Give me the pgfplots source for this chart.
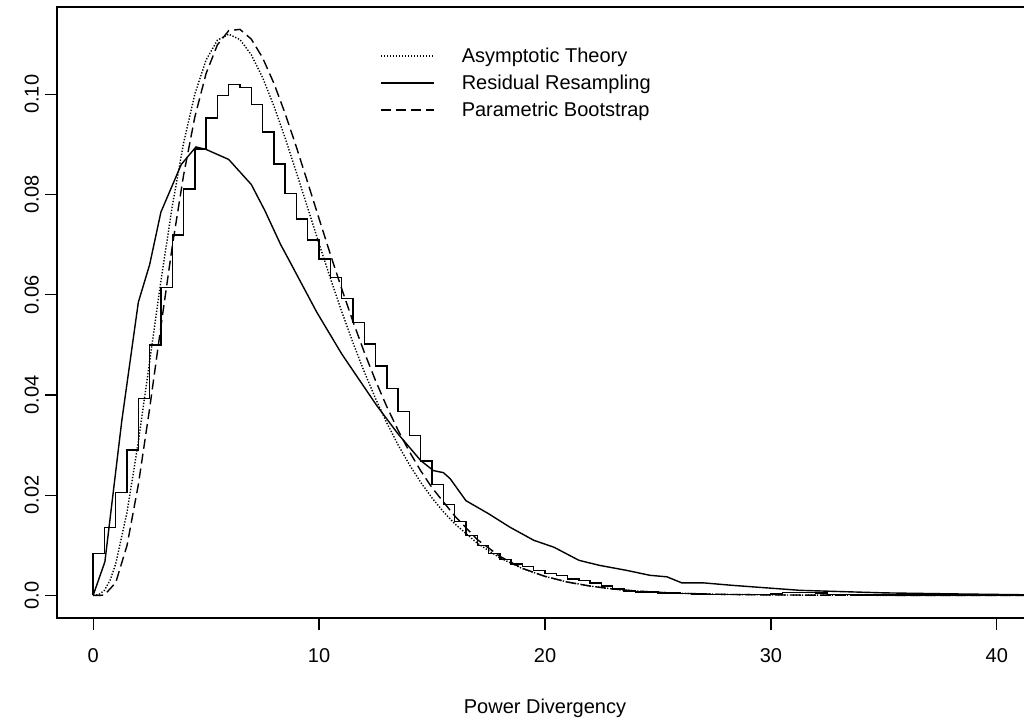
\documentclass[border=0pt]{standalone}
\usepackage{fontspec}
\setmainfont{Liberation Sans}
\usepackage{graphicx}
\usepackage{pgfplots}
\pgfplotsset{compat=1.18}
\begin{document}
\fontsize{20}{24}\selectfont
\begin{tikzpicture}
\useasboundingbox (0,0) rectangle (1024pt,722pt);
\clip (0,0) rectangle (1024pt,722pt);
\begin{axis}[
  at={(57pt,104pt)}, anchor=south west,
  scale only axis, width=976pt, height=611pt,
  xmin=-1.6, xmax=41.6, ymin=-0.004516, ymax=0.11743,
  axis line style={line width=1.6pt, black},
  xtick={0,10,20,30,40}, xticklabels={0,10,20,30,40},
  ytick={0,0.02,0.04,0.06,0.08,0.10},
  yticklabels={\rotatebox{90}{0.0},\rotatebox{90}{0.02},\rotatebox{90}{0.04},\rotatebox{90}{0.06},\rotatebox{90}{0.08},\rotatebox{90}{0.10}},
  scaled y ticks=false,
  tick align=outside, tickpos=left, major tick length=12pt,
  tick style={line width=1.2pt, black},
  /pgf/number format/assume math mode=true,
  ticklabel style={font=\fontsize{20}{24}\selectfont},
  xticklabel style={anchor=base, inner sep=0pt, yshift=-33pt},
  yticklabel style={anchor=east, inner sep=0pt, xshift=-6pt},
  xlabel={Power Divergency},
  xlabel style={at={(axis description cs:0.5,-0.1555)}, anchor=base, inner sep=0pt, font=\fontsize{20}{24}\selectfont},
  legend image code/.code={\path[draw=none,fill=none] (0pt,-9pt) rectangle (81pt,9pt); \draw[#1] (0pt,2pt) -- (53pt,2pt);},
  legend cell align=left,
  legend style={draw=none, fill=none, inner sep=0pt, outer sep=0pt,
    at={(axis description cs:0.331,0.9313)}, anchor=north west,
    row sep=9pt,
    nodes={inner sep=0pt, text height=14pt, text depth=4pt, font=\fontsize{20}{24}\selectfont}},
  every axis plot/.append style={line width=1.4pt, black},
]
% Asymptotic Theory (dotted)
\addplot[dash pattern=on 1.3pt off 1.7pt] coordinates {
(0,0) (0.25,0.000144) (0.5,0.001014) (0.75,0.00302) (1,0.006318) (1.5,0.016606) (2,0.030657)
(2.5,0.046631) (3,0.062755) (3.5,0.077611) (4,0.090224) (4.5,0.100047) (5,0.106881)
(5.5,0.110792) (6,0.112020) (6.5,0.110920) (7,0.107893) (7.5,0.103350) (8,0.097683)
(8.5,0.091251) (9,0.084360) (9.5,0.077268) (10,0.070187) (10.5,0.063278) (11,0.056662)
(11.5,0.050423) (12,0.044618) (12.5,0.039276) (13,0.034406) (13.5,0.030009) (14,0.026065)
(14.5,0.022552) (15,0.019444) (15.5,0.016709) (16,0.014313) (17,0.010413) (18,0.0074972)
(19,0.005348) (20,0.0037833) (21,0.0026563) (22,0.0018525) (23,0.0012839) (24,0.00088476)
(25,0.00060656) (26,0.00041382) (27,0.0002811) (28,0.00019014) (30,0.000086) (32,0.0000384)
(35,0.0000112) (38,0.000003) (41.6,0)
};
\addlegendentry{Asymptotic Theory}
% Residual Resampling (solid)
\addplot[solid] coordinates {
(0,0) (0.52,0.0067) (1.27,0.0349) (2.0,0.0585) (2.5,0.066) (3.0,0.0765) (3.9,0.086)
(4.55,0.0895) (5.0,0.089) (6.0,0.087) (7.0,0.082) (7.6,0.0768) (8.3,0.070) (8.6,0.0675)
(9.9,0.0565) (11.0,0.0482) (12.55,0.0379) (13.5,0.0322) (14.5,0.0269) (15.06,0.0249)
(15.5,0.0245) (15.8,0.0233) (16.5,0.0189) (17.5,0.0163) (18.45,0.0136) (19.5,0.011)
(20.4,0.0096) (21.5,0.007) (22.4,0.006) (23.6,0.005) (24.65,0.004) (25.4,0.0037)
(26.05,0.0025) (27.0,0.0025) (28.3,0.002) (31.3,0.001) (35,0.0005) (38,0.0003) (41.6,0.0001)
};
\addlegendentry{Residual Resampling}
% Parametric Bootstrap (dashed)
\addplot[dash pattern=on 10pt off 5pt] coordinates {
(0,0) (0.3,0) (0.5,0.00008) (1.0,0.00254) (1.5,0.00998) (2.0,0.02209) (2.5,0.03729)
(3.0,0.05368) (3.5,0.06960) (4.0,0.08379) (4.5,0.09546) (5.0,0.10417) (5.5,0.10988)
(6.0,0.11271) (6.5,0.11296) (7.0,0.11102) (7.5,0.10730) (8.0,0.10221) (8.5,0.09614)
(9.0,0.08942) (9.5,0.08235) (10,0.07517) (10.5,0.06807) (11,0.06120) (11.5,0.05466)
(12,0.04853) (12.5,0.04285) (13,0.03764) (13.5,0.03292) (14,0.02866) (14.5,0.02486)
(15,0.02148) (16,0.01587) (17,0.01115) (18,0.00780) (19,0.00540) (20,0.00380) (21,0.00265)
(22,0.00185) (23,0.00128) (24,0.00088) (25,0.00061) (26,0.00041) (28,0.00019) (30,0.00009)
(33,0.00003) (36,0.00001) (41.6,0)
};
\addlegendentry{Parametric Bootstrap}
% Histogram of residual resampling (steps)
\addplot[solid, const plot, forget plot] coordinates {
(0,0) (0,0.0084) (0.5,0.0136) (1.0,0.0205) (1.5,0.0290) (2.0,0.0393) (2.5,0.0500)
(3.0,0.0615) (3.5,0.0719) (4.0,0.0811) (4.5,0.0891) (5.0,0.0953) (5.5,0.0998)
(6.0,0.1020) (6.5,0.1014) (7.0,0.0980) (7.5,0.0925) (8.0,0.0861) (8.5,0.0802)
(9.0,0.0751) (9.5,0.0709) (10.0,0.0671) (10.5,0.0634) (11.0,0.0592) (11.5,0.0545)
(12.0,0.0502) (12.5,0.0458) (13.0,0.0413) (13.5,0.0367) (14.0,0.0319) (14.5,0.0268)
(15.0,0.0221) (15.5,0.0181) (16.0,0.0148) (16.5,0.0120) (17.0,0.0100) (17.5,0.0084)
(18.0,0.0072) (18.5,0.0063) (19.0,0.0058) (19.5,0.0050) (20.0,0.0044) (20.5,0.0040)
(21.0,0.0033) (21.5,0.0030) (22.0,0.0025) (22.5,0.0019) (23.0,0.0013) (23.5,0.0009)
(24.0,0.0007) (24.5,0.0007) (25.0,0.0005) (25.5,0.0005) (26.0,0.0004) (26.5,0.0003)
(27.0,0.0002) (30.0,0.0003) (30.5,0.0006) (32.0,0.0005) (32.5,0.0002) (34.0,0.0001)
(42.0,0.0001)
};
\end{axis}
\end{tikzpicture}
\end{document}
